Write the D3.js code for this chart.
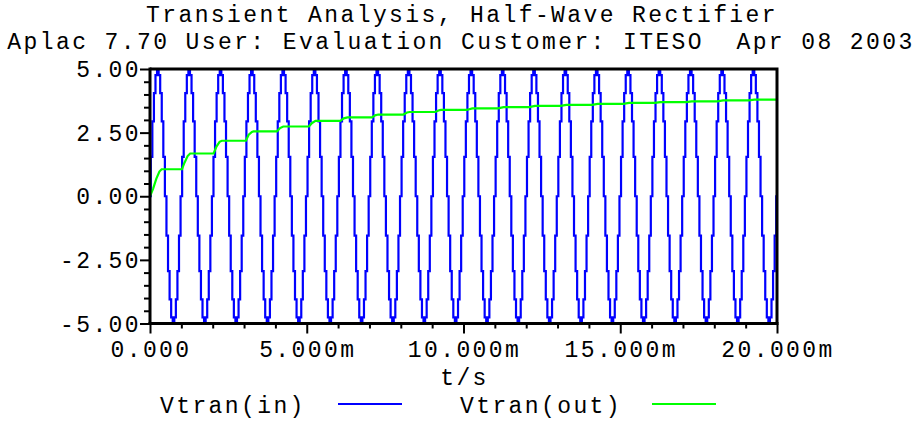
<!DOCTYPE html>
<html><head><meta charset="utf-8">
<script src="https://cdn.jsdelivr.net/npm/d3@7"></script>
<style>body{margin:0;background:#fff}svg{display:block}text{white-space:pre}</style>
</head><body><svg id="c" width="919" height="421"></svg>
<script>
const titleText = "Transient Analysis, Half-Wave Rectifier";
const subtitleText = "Aplac 7.70 User: Evaluation Customer: ITESO  Apr 08 2003";
const xLabel = "t/s";
const seriesNames = ["Vtran(in)", "Vtran(out)"];
const xTicks = [0, 5, 10, 15, 20]; // ms
const xTickLabels = ["0.000", "5.000m", "10.000m", "15.000m", "20.000m"];
const yTicks = [5, 2.5, 0, -2.5, -5];
const yTickLabels = ["5.00", "2.50", "0.00", "-2.50", "-5.00"];
const vinStep = 0.05; // ms between input samples
const vin = [
0,1.55,2.94,4.05,4.76,5,4.76,4.05,2.94,1.55,0,-1.55,-2.94,-4.05,-4.76,-5,-4.76,-4.05,-2.94,-1.55,
0,1.55,2.94,4.05,4.76,5,4.76,4.05,2.94,1.55,0,-1.55,-2.94,-4.05,-4.76,-5,-4.76,-4.05,-2.94,-1.55,
0,1.55,2.94,4.05,4.76,5,4.76,4.05,2.94,1.55,0,-1.55,-2.94,-4.05,-4.76,-5,-4.76,-4.05,-2.94,-1.55,
0,1.55,2.94,4.05,4.76,5,4.76,4.05,2.94,1.55,0,-1.55,-2.94,-4.05,-4.76,-5,-4.76,-4.05,-2.94,-1.55,
0,1.55,2.94,4.05,4.76,5,4.76,4.05,2.94,1.55,0,-1.55,-2.94,-4.05,-4.76,-5,-4.76,-4.05,-2.94,-1.55,
0,1.55,2.94,4.05,4.76,5,4.76,4.05,2.94,1.55,0,-1.55,-2.94,-4.05,-4.76,-5,-4.76,-4.05,-2.94,-1.55,
0,1.55,2.94,4.05,4.76,5,4.76,4.05,2.94,1.55,0,-1.55,-2.94,-4.05,-4.76,-5,-4.76,-4.05,-2.94,-1.55,
0,1.55,2.94,4.05,4.76,5,4.76,4.05,2.94,1.55,0,-1.55,-2.94,-4.05,-4.76,-5,-4.76,-4.05,-2.94,-1.55,
0,1.55,2.94,4.05,4.76,5,4.76,4.05,2.94,1.55,0,-1.55,-2.94,-4.05,-4.76,-5,-4.76,-4.05,-2.94,-1.55,
0,1.55,2.94,4.05,4.76,5,4.76,4.05,2.94,1.55,0,-1.55,-2.94,-4.05,-4.76,-5,-4.76,-4.05,-2.94,-1.55,
0,1.55,2.94,4.05,4.76,5,4.76,4.05,2.94,1.55,0,-1.55,-2.94,-4.05,-4.76,-5,-4.76,-4.05,-2.94,-1.55,
0,1.55,2.94,4.05,4.76,5,4.76,4.05,2.94,1.55,0,-1.55,-2.94,-4.05,-4.76,-5,-4.76,-4.05,-2.94,-1.55,
0,1.55,2.94,4.05,4.76,5,4.76,4.05,2.94,1.55,0,-1.55,-2.94,-4.05,-4.76,-5,-4.76,-4.05,-2.94,-1.55,
0,1.55,2.94,4.05,4.76,5,4.76,4.05,2.94,1.55,0,-1.55,-2.94,-4.05,-4.76,-5,-4.76,-4.05,-2.94,-1.55,
0,1.55,2.94,4.05,4.76,5,4.76,4.05,2.94,1.55,0,-1.55,-2.94,-4.05,-4.76,-5,-4.76,-4.05,-2.94,-1.55,
0,1.55,2.94,4.05,4.76,5,4.76,4.05,2.94,1.55,0,-1.55,-2.94,-4.05,-4.76,-5,-4.76,-4.05,-2.94,-1.55,
0,1.55,2.94,4.05,4.76,5,4.76,4.05,2.94,1.55,0,-1.55,-2.94,-4.05,-4.76,-5,-4.76,-4.05,-2.94,-1.55,
0,1.55,2.94,4.05,4.76,5,4.76,4.05,2.94,1.55,0,-1.55,-2.94,-4.05,-4.76,-5,-4.76,-4.05,-2.94,-1.55,
0,1.55,2.94,4.05,4.76,5,4.76,4.05,2.94,1.55,0,-1.55,-2.94,-4.05,-4.76,-5,-4.76,-4.05,-2.94,-1.55,
0,1.55,2.94,4.05,4.76,5,4.76,4.05,2.94,1.55,0,-1.55,-2.94,-4.05,-4.76,-5,-4.76,-4.05,-2.94,-1.55,
0];
const voutT = [0,0.1,0.2,0.3,0.37,1.02,1.1,1.2,1.28,2.03,2.12,2.22,2.29,3.06,3.15,3.25,3.3,4.05,4.15,4.25,
  5.07,5.17,5.28,6.07,6.18,6.3,7.08,7.18,7.28,8.08,8.2,8.28,9.1,9.2,9.28,10.1,10.28,11.1,11.28,12.1,12.28,
  13.1,13.28,14.1,14.28,15.1,15.28,16.1,16.28,17.1,17.28,18.1,18.28,19.1,19.28,20];
const voutV = [0,0.3,0.68,0.97,1.06,1.06,1.32,1.58,1.68,1.68,1.95,2.14,2.18,2.18,2.42,2.53,2.55,2.55,2.68,2.74,
  2.74,2.88,2.96,2.96,3.06,3.1,3.1,3.18,3.21,3.21,3.29,3.31,3.31,3.37,3.39,3.39,3.45,3.45,3.5,3.5,3.55,
  3.55,3.59,3.59,3.63,3.63,3.67,3.67,3.7,3.7,3.73,3.73,3.77,3.77,3.8,3.8];

const svg = d3.select("#c");
const FONT = "'Liberation Mono','Courier New',monospace";
const L = 150, R = 777, T = 69, B = 323.5;
const x = d3.scaleLinear().domain([0, 20]).range([L, R]);
const y = d3.scaleLinear().domain([-5, 5]).range([B, T]);

function txt(s, px, py, anchor) {
  return svg.append("text").attr("x", px).attr("y", py)
    .attr("text-anchor", anchor).attr("font-family", FONT)
    .attr("font-size", 23).attr("letter-spacing", "2.4px").attr("fill", "#000").text(s);
}
txt(titleText, 462, 22, "middle");
txt(subtitleText, 461, 49, "middle");

// series
const gPlot = svg.append("g");
const inData = vin.map((v, i) => [i * vinStep, v]);
const outData = voutT.map((t, i) => [t, voutV[i]]);
gPlot.append("path").datum(inData)
  .attr("d", d3.line().x(d => x(d[0])).y(d => y(d[1])).curve(d3.curveStep))
  .attr("fill", "none").attr("stroke", "#0000ff").attr("stroke-width", 2.2);
gPlot.append("path").datum(outData)
  .attr("d", d3.line().x(d => x(d[0])).y(d => y(d[1])))
  .attr("fill", "none").attr("stroke", "#00ff00").attr("stroke-width", 2.2);

// frame
svg.append("path").attr("d", `M${L},${T}H${R}V${B}`).attr("fill", "none")
  .attr("stroke", "#000").attr("stroke-width", 3);

// x axis
const xAxis = svg.append("g").attr("transform", `translate(0,${B})`);
xAxis.call(d3.axisBottom(x).tickValues(d3.range(0, 21, 1)).tickSize(5).tickFormat(""));
xAxis.call(g => g.selectAll(".tick").filter(d => xTicks.includes(d)).select("line").attr("y2", 10));
xAxis.selectAll("line").attr("stroke", "#000").attr("stroke-width", 2);
xAxis.select(".domain").attr("d", `M${L - 1.5},0H${R + 1.5}`).attr("stroke", "#000").attr("stroke-width", 3);
xTicks.forEach((t, i) => txt(xTickLabels[i], x(t) + 1, 357, "middle"));
txt(xLabel, x(10) + 1, 385, "middle");

// y axis
const yAxis = svg.append("g").attr("transform", `translate(${L},0)`);
yAxis.call(d3.axisLeft(y).tickValues(d3.range(-5, 5.01, 0.5)).tickSize(6).tickFormat(""));
yAxis.call(g => g.selectAll(".tick").filter(d => yTicks.some(v => Math.abs(v - d) < 1e-9)).select("line").attr("x2", -10));
yAxis.selectAll("line").attr("stroke", "#000").attr("stroke-width", 2);
yAxis.select(".domain").attr("d", `M0,${T - 1.5}V${B + 1.5}`).attr("stroke", "#000").attr("stroke-width", 3);
yTicks.forEach((v, i) => txt(yTickLabels[i], 141, y(v) + 8, "end"));

// legend
txt(seriesNames[0], 160, 413, "start");
svg.append("line").attr("x1", 338).attr("x2", 402).attr("y1", 404).attr("y2", 404)
  .attr("stroke", "#0000ff").attr("stroke-width", 2);
txt(seriesNames[1], 460, 413, "start");
svg.append("line").attr("x1", 652).attr("x2", 716).attr("y1", 404).attr("y2", 404)
  .attr("stroke", "#00ff00").attr("stroke-width", 2);
</script></body></html>
